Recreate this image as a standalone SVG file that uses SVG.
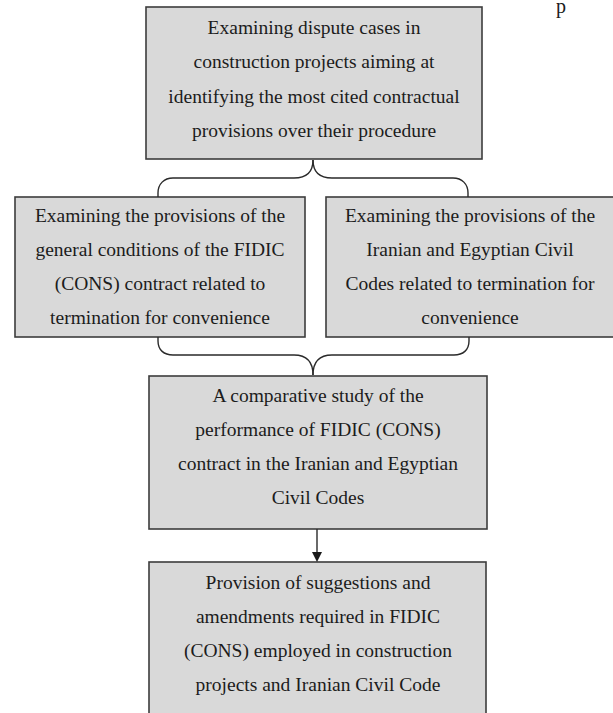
<svg xmlns="http://www.w3.org/2000/svg" width="613" height="713" viewBox="0 0 613 713">
<defs>
<style>
.box{fill:#d9d9d9;stroke:#3c3c3c;stroke-width:1.6}
.t{font-family:"Liberation Serif","Times New Roman",serif;font-size:19.5px;fill:#1c1c1c;text-anchor:middle}
.c{fill:none;stroke:#2a2a2a;stroke-width:1.4}
</style>
</defs>
<rect width="613" height="713" fill="#ffffff"/>
<text x="561" y="13" class="t" style="font-size:20px">p</text>
<g id="n1">
<rect class="box" x="146" y="7" width="336" height="152"/>
<text class="t" x="314" y="33.5">Examining dispute cases in</text>
<text class="t" x="314" y="68">construction projects aiming at</text>
<text class="t" x="314" y="102.5">identifying the most cited contractual</text>
<text class="t" x="314" y="137">provisions over their procedure</text>
</g>
<g id="n2">
<rect class="box" x="15" y="197" width="290" height="140"/>
<text class="t" x="160" y="222">Examining the provisions of the</text>
<text class="t" x="160" y="256">general conditions of the FIDIC</text>
<text class="t" x="160" y="290">(CONS) contract related to</text>
<text class="t" x="160" y="323.5">termination for convenience</text>
</g>
<g id="n3">
<rect class="box" x="326" y="197" width="290" height="140"/>
<text class="t" x="470" y="222">Examining the provisions of the</text>
<text class="t" x="470" y="256">Iranian and Egyptian Civil</text>
<text class="t" x="470" y="290">Codes related to termination for</text>
<text class="t" x="470" y="323.5">convenience</text>
</g>
<g id="n4">
<rect class="box" x="149" y="376" width="338" height="153"/>
<text class="t" x="318" y="402">A comparative study of the</text>
<text class="t" x="318" y="436">performance of FIDIC (CONS)</text>
<text class="t" x="318" y="470">contract in the Iranian and Egyptian</text>
<text class="t" x="318" y="504">Civil Codes</text>
</g>
<g id="n5">
<rect class="box" x="149" y="562" width="337" height="170"/>
<text class="t" x="318" y="589">Provision of suggestions and</text>
<text class="t" x="318" y="623">amendments required in FIDIC</text>
<text class="t" x="318" y="657">(CONS) employed in construction</text>
<text class="t" x="318" y="691">projects and Iranian Civil Code</text>
</g>
<g id="connectors">
<path class="c" d="M313,160 C313,172 306,178 294,178 L173,178 C164,178 158,184 158,193 L158,197"/>
<path class="c" d="M313,160 C313,172 320,178 332,178 L453,178 C462,178 468,184 468,193 L468,197"/>
<path class="c" d="M158,337 L158,341 C158,350 164,355 173,355 L294,355 C306,355 313,361 313,375"/>
<path class="c" d="M469,337 L469,341 C469,350 463,355 454,355 L332,355 C320,355 313,361 313,375"/>
<line class="c" x1="317" y1="529" x2="317" y2="553"/>
<polygon points="312,552 322,552 317,562" fill="#1a1a1a"/>
</g>
</svg>
